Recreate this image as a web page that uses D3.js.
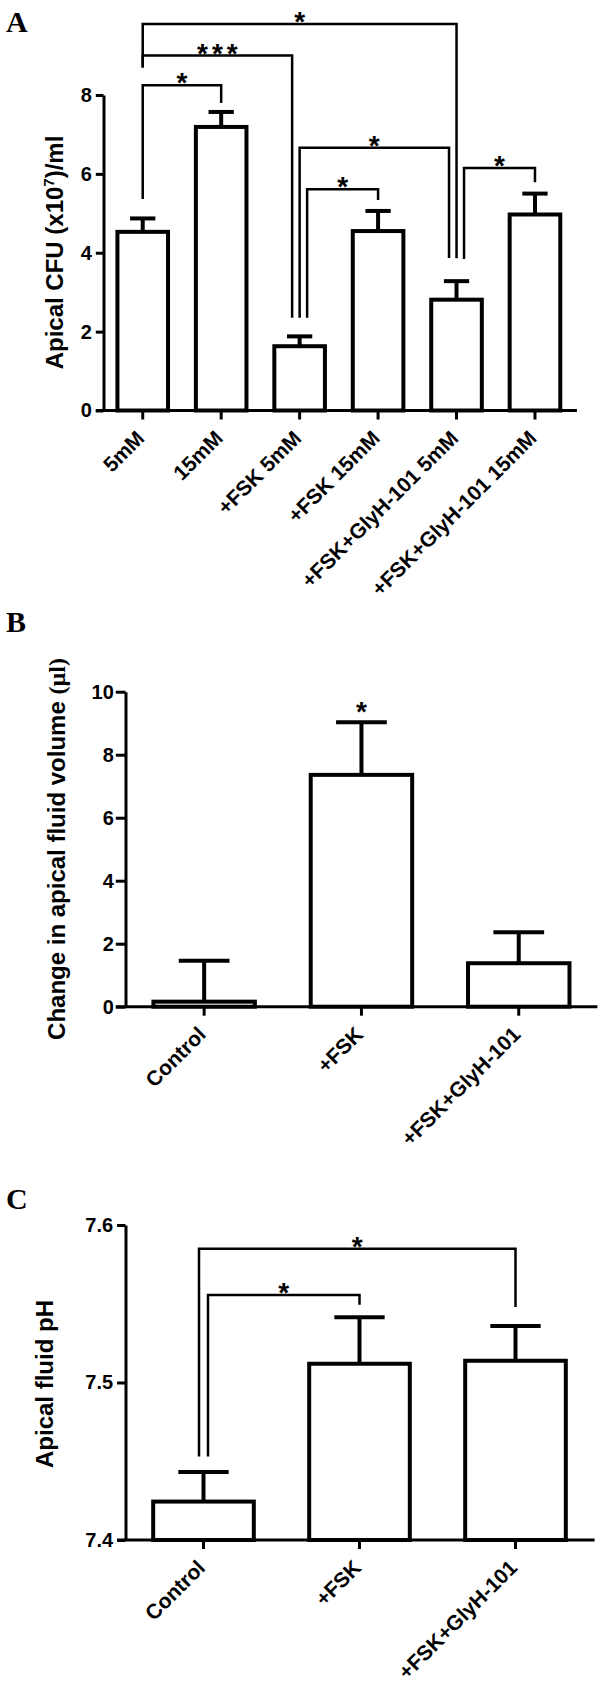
<!DOCTYPE html>
<html>
<head>
<meta charset="utf-8">
<script src="https://cdnjs.cloudflare.com/ajax/libs/d3/7.8.5/d3.min.js"></script>
<style>
  body { margin: 0; background: #fff; }
  text { font-family: "Liberation Sans", Arial, sans-serif; font-weight: bold; fill: #000; }
</style>
</head>
<body>
<svg id="chart" width="605" height="1682"></svg>
<script>
// ---- panel A: apical CFU
const catsA = ["5mM", "15mM", "+FSK 5mM", "+FSK 15mM", "+FSK+GlyH-101 5mM", "+FSK+GlyH-101 15mM"];
const meanA = [4.53, 7.19, 1.63, 4.55, 2.81, 4.97];
const semA  = [0.34, 0.38, 0.25, 0.51, 0.47, 0.53];
const ticksA = [0, 2, 4, 6, 8];
// brackets: from bar, leg side, to bar, leg side, bar level, left leg end, right leg end, label
const sigA = [
  [0, 0, 4, 0, 9.8, 8.7, 3.86, "*"],
  [0, 0, 2, -1, 9.0, 8.7, 2.35, "***"],
  [0, 0, 1, 0, 8.25, 5.36, 7.8, "*"],
  [2, 0, 4, -1, 6.66, 2.35, 3.87, "*"],
  [2, 1, 3, 0, 5.61, 2.35, 5.34, "*"],
  [4, 1, 5, 0, 6.15, 3.84, 5.79, "*"]
];

// ---- panel B: change in apical fluid volume
const catsB = ["Control", "+FSK", "+FSK+GlyH-101"];
const meanB = [0.16, 7.36, 1.38];
const semB  = [1.30, 1.67, 0.98];
const ticksB = [0, 2, 4, 6, 8, 10];
const starsB = [[1, 9.58, "*"]];

// ---- panel C: apical fluid pH
const catsC = ["Control", "+FSK", "+FSK+GlyH-101"];
const meanC = [7.4244, 7.5119, 7.5138];
const semC  = [0.0188, 0.0296, 0.0221];
const ticksC = [7.4, 7.5, 7.6];
const sigC = [
  [0, -1, 2, 0, 7.585, 7.453, 7.548, "*"],
  [0, 1, 1, 0, 7.5556, 7.453, 7.5494, "*"]
];

const svg = d3.select("#chart");

function drawPanel(p) {
  const g = svg.append("g");
  const x = d3.scaleBand().domain(p.cats).range([p.x0, p.x1])
    .paddingInner(0.355).paddingOuter(0.1775);
  const y = d3.scaleLinear().domain(p.domain).range([p.yBot, p.yTop]);
  const bw = x.bandwidth();
  const cx = c => x(c) + bw / 2;

  // panel letter
  svg.append("text").attr("x", 6).attr("y", p.letterY)
    .style("font-family", '"Liberation Serif", "Times New Roman", serif')
    .attr("font-size", 30).text(p.letter);

  // bars
  g.selectAll("rect.bar").data(p.cats).join("rect")
    .attr("class", "bar")
    .attr("x", c => x(c)).attr("width", bw)
    .attr("y", (c, i) => y(p.mean[i]))
    .attr("height", (c, i) => p.yBot - y(p.mean[i]))
    .attr("fill", "#fff").attr("stroke", "#000").attr("stroke-width", 4);

  // error bars
  const eb = g.selectAll("g.err").data(p.cats).join("g").attr("class", "err")
    .attr("stroke", "#000").attr("stroke-width", 4);
  eb.append("line")
    .attr("x1", c => cx(c)).attr("x2", c => cx(c))
    .attr("y1", (c, i) => y(p.mean[i])).attr("y2", (c, i) => y(p.mean[i] + p.sem[i]));
  eb.append("line")
    .attr("x1", c => cx(c) - bw / 4).attr("x2", c => cx(c) + bw / 4)
    .attr("y1", (c, i) => y(p.mean[i] + p.sem[i])).attr("y2", (c, i) => y(p.mean[i] + p.sem[i]));

  // y axis
  const ya = g.append("g").attr("transform", `translate(${p.x0},0)`)
    .call(d3.axisLeft(y).tickValues(p.ticks).tickFormat(p.fmt)
      .tickSize(p.tickLen).tickSizeOuter(0).tickPadding(p.labelGap));
  ya.attr("font-size", 20).attr("font-family", null);
  ya.selectAll("path, line").attr("stroke-width", 3);
  ya.selectAll("text").attr("fill", "#000");

  // x axis
  const xa = g.append("g").attr("transform", `translate(0,${p.yBot})`)
    .call(d3.axisBottom(x).tickSize(9).tickSizeOuter(0).tickFormat(""));
  xa.select(".domain").remove();
  xa.selectAll("line").attr("stroke-width", 3);
  g.append("line").attr("x1", p.x0 - p.tickLen).attr("x2", p.axisEnd)
    .attr("y1", p.yBot).attr("y2", p.yBot)
    .attr("stroke", "#000").attr("stroke-width", 3);

  g.selectAll("text.xl").data(p.cats).join("text").attr("class", "xl")
    .attr("transform", c => `translate(${cx(c) + 3},${p.yBot + 29}) rotate(-45)`)
    .attr("text-anchor", "end").attr("font-size", 21).text(c => c);

  // y title
  const t = g.append("text")
    .attr("transform", `translate(${p.titleX},${p.titleY}) rotate(-90)`)
    .attr("text-anchor", "middle").attr("font-size", 24);
  p.title(t);

  // significance brackets
  (p.sigs || []).forEach(s => {
    const [a, sa, b, sb, lv, ea, ebt, lab] = s;
    const xa1 = cx(p.cats[a]) + sa * p.legGap;
    const xb1 = cx(p.cats[b]) + sb * p.legGap;
    g.append("path")
      .attr("d", `M${xa1},${y(ea)}V${y(lv)}H${xb1}V${y(ebt)}`)
      .attr("fill", "none").attr("stroke", "#000").attr("stroke-width", 2.5);
    g.append("text").attr("x", (xa1 + xb1) / 2 + (lab.length > 1 ? 2 : 0))
      .attr("y", y(lv) + 7).attr("text-anchor", "middle")
      .attr("font-size", 28).attr("letter-spacing", lab.length > 1 ? 4 : 0)
      .text(lab);
  });
  (p.stars || []).forEach(s => {
    g.append("text").attr("x", cx(p.cats[s[0]])).attr("y", y(s[1]) + 16)
      .attr("text-anchor", "middle").attr("font-size", 28).text(s[2]);
  });
}

drawPanel({
  letter: "A", letterY: 32,
  cats: catsA, mean: meanA, sem: semA, ticks: ticksA, domain: [0, 8], fmt: d3.format("d"),
  x0: 103.5, x1: 574.2, axisEnd: 577, yBot: 410.5, yTop: 95, tickLen: 7.7, labelGap: 4,
  sigs: sigA, legGap: 7.5,
  titleX: 63, titleY: 252.5,
  title: t => {
    t.append("tspan").text("Apical CFU (x10");
    t.append("tspan").attr("font-size", 15).attr("dy", -9).text("7");
    t.append("tspan").attr("dy", 9).text(")/ml");
  }
});

drawPanel({
  letter: "B", letterY: 632,
  cats: catsB, mean: meanB, sem: semB, ticks: ticksB, domain: [0, 10], fmt: d3.format("d"),
  x0: 125.5, x1: 597.4, axisEnd: 597.4, yBot: 1006.7, yTop: 691.7, tickLen: 9.7, labelGap: 2,
  stars: starsB,
  titleX: 65, titleY: 849,
  title: t => {
    t.append("tspan").text("Change in apical fluid volume ");
    t.append("tspan").style("font-family", '"Liberation Serif", serif').text("(\u00b5l)");
  }
});

drawPanel({
  letter: "C", letterY: 1209,
  cats: catsC, mean: meanC, sem: semC, ticks: ticksC, domain: [7.4, 7.6], fmt: d3.format(".1f"),
  x0: 125.5, x1: 593.5, axisEnd: 594.6, yBot: 1540, yTop: 1225, tickLen: 8.4, labelGap: 4,
  sigs: sigC, legGap: 4.5,
  titleX: 53, titleY: 1384,
  title: t => t.text("Apical fluid pH")
});
</script>
</body>
</html>
